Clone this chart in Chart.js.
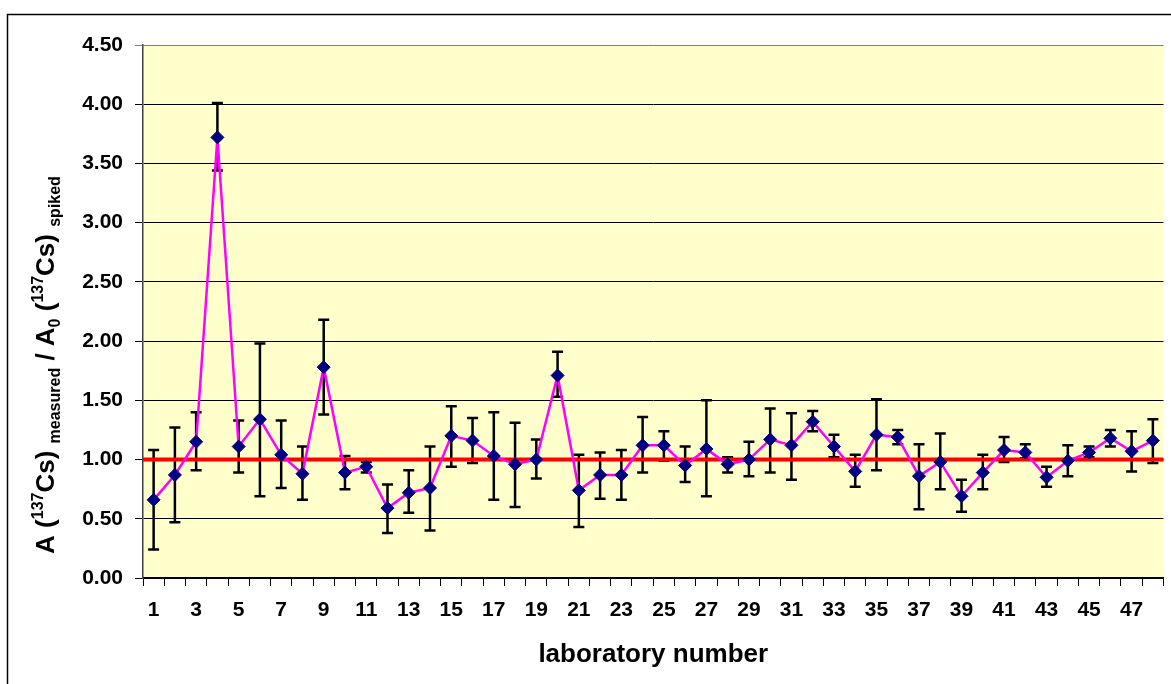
<!DOCTYPE html>
<html>
<head>
<meta charset="utf-8">
<script src="https://cdn.jsdelivr.net/npm/chart.js@4.4.1/dist/chart.umd.min.js"></script>
<style>
  body { margin: 0; background: #fff; }
  #chart1 { display: block; }
</style>
</head>
<body>
<canvas id="chart1" width="1171" height="684"></canvas>
<script>
// laboratory numbers 1..48
var labs = [];
for (var i = 1; i <= 48; ++i) labs.push(String(i));

// A(137Cs) measured / A0(137Cs) spiked
var ratio = [0.66, 0.87, 1.15, 3.72, 1.11, 1.34, 1.04, 0.88, 1.78, 0.89,
             0.94, 0.59, 0.72, 0.76, 1.20, 1.16, 1.03, 0.96, 1.00, 1.71,
             0.74, 0.87, 0.87, 1.12, 1.12, 0.95, 1.09, 0.96, 1.00, 1.17,
             1.12, 1.32, 1.11, 0.90, 1.21, 1.19, 0.86, 0.98, 0.69, 0.89,
             1.08, 1.06, 0.85, 0.99, 1.06, 1.18, 1.07, 1.16];
// error bar ends
var upper = [1.08, 1.27, 1.40, 4.01, 1.33, 1.98, 1.33, 1.11, 2.18, 1.03,
             0.98, 0.79, 0.91, 1.11, 1.45, 1.35, 1.40, 1.31, 1.17, 1.91,
             1.04, 1.06, 1.08, 1.36, 1.24, 1.11, 1.50, 1.02, 1.15, 1.43,
             1.39, 1.41, 1.21, 1.04, 1.51, 1.25, 1.13, 1.22, 0.83, 1.04,
             1.19, 1.13, 0.94, 1.12, 1.11, 1.25, 1.24, 1.34];
var lower = [0.24, 0.47, 0.91, 3.44, 0.89, 0.69, 0.76, 0.66, 1.38, 0.75,
             0.89, 0.38, 0.55, 0.40, 0.94, 0.97, 0.66, 0.60, 0.84, 1.53,
             0.43, 0.67, 0.66, 0.89, 0.99, 0.81, 0.69, 0.89, 0.86, 0.89,
             0.83, 1.24, 1.02, 0.77, 0.91, 1.13, 0.58, 0.75, 0.56, 0.75,
             0.98, 1.01, 0.77, 0.86, 1.02, 1.11, 0.90, 0.97];
var refValue = 1.0;

var xTitle = 'laboratory number';
var yTitleParts = [
  ['A (', 'n'], ['137', 'sup'], ['Cs) ', 'n'], ['measured', 'sub'],
  [' / A', 'n'], ['0', 'sub'], [' (', 'n'], ['137', 'sup'], ['Cs) ', 'n'], ['spiked', 'sub']
];

var FONT = "Arial, 'Liberation Sans', sans-serif";

var decorPlugin = {
  id: 'decor',
  beforeDraw: function(chart) {
    var ctx = chart.ctx, a = chart.chartArea;
    ctx.save();
    ctx.fillStyle = '#ffffff';
    ctx.fillRect(0, 0, chart.width, chart.height);
    ctx.strokeStyle = '#000';
    ctx.lineWidth = 1.5;
    ctx.strokeRect(7.5, 14.5, 1300, 800);
    ctx.fillStyle = '#FFFFCC';
    ctx.fillRect(a.left, a.top, a.right - a.left, a.bottom - a.top);
    ctx.restore();
  },
  beforeDatasetsDraw: function(chart) {
    var ctx = chart.ctx, a = chart.chartArea;
    var xs = chart.scales.x, ys = chart.scales.y;
    ctx.save();
    // error bars
    ctx.strokeStyle = '#000';
    ctx.lineWidth = 2.5;
    for (var i = 0; i < ratio.length; ++i) {
      var x = xs.getPixelForValue(i);
      var yt = ys.getPixelForValue(upper[i]);
      var yb = ys.getPixelForValue(lower[i]);
      ctx.beginPath();
      ctx.moveTo(x, yt); ctx.lineTo(x, yb);
      ctx.moveTo(x - 5.5, yt); ctx.lineTo(x + 5.5, yt);
      ctx.moveTo(x - 5.5, yb); ctx.lineTo(x + 5.5, yb);
      ctx.stroke();
    }
    // reference line at 1.00
    var yr = ys.getPixelForValue(refValue);
    ctx.strokeStyle = '#FF0000';
    ctx.lineWidth = 4;
    ctx.beginPath();
    ctx.moveTo(a.left, yr); ctx.lineTo(a.right, yr);
    ctx.stroke();
    ctx.restore();
  },
  afterDraw: function(chart) {
    var ctx = chart.ctx;
    var big = 'bold 26px ' + FONT, small = 'bold 16px ' + FONT;
    ctx.save();
    ctx.fillStyle = '#000';
    ctx.textBaseline = 'alphabetic';
    var total = 0;
    yTitleParts.forEach(function(p) {
      ctx.font = p[1] === 'n' ? big : small;
      total += ctx.measureText(p[0]).width;
    });
    ctx.translate(54, 365);
    ctx.rotate(-Math.PI / 2);
    var x = -total / 2;
    yTitleParts.forEach(function(p) {
      ctx.font = p[1] === 'n' ? big : small;
      var dy = p[1] === 'sub' ? 6 : (p[1] === 'sup' ? -11 : 0);
      ctx.fillText(p[0], x, dy);
      x += ctx.measureText(p[0]).width;
    });
    ctx.restore();
  }
};

var chart = new Chart('chart1', {
  type: 'line',
  data: {
    labels: labs,
    datasets: [{
      data: ratio,
      borderColor: '#FF00FF',
      borderWidth: 2.5,
      pointStyle: 'rectRot',
      pointRadius: 6.5,
      pointBackgroundColor: '#000080',
      pointBorderColor: '#000080',
      pointBorderWidth: 1,
      tension: 0
    }]
  },
  options: {
    responsive: false,
    animation: false,
    layout: { padding: { top: 45, right: 2, left: 0, bottom: 0 } },
    plugins: { legend: { display: false }, tooltip: { enabled: false } },
    scales: {
      x: {
        type: 'category',
        offset: true,
        afterFit: function(s) { s.height = 106; s.paddingRight = 0; s.paddingLeft = 0; },
        grid: { offset: true, drawOnChartArea: false, drawTicks: true, tickLength: 8, color: '#000' },
        border: { color: '#000', width: 1.5 },
        ticks: {
          autoSkip: false, maxRotation: 0, padding: 12, color: '#000',
          font: { family: FONT, size: 21, weight: 'bold' },
          callback: function(v, idx) { return idx % 2 === 0 ? labs[idx] : ''; }
        },
        title: {
          display: true, text: xTitle, color: '#000',
          font: { family: FONT, size: 26, weight: 'bold' },
          padding: { top: 0, bottom: 14 }
        }
      },
      y: {
        min: 0, max: 4.5,
        afterFit: function(s) { s.width = 143; },
        grid: {
          color: function(c) { return c.tick && c.tick.value === 4.5 ? '#808080' : '#000'; },
          lineWidth: 1, tickLength: 8
        },
        border: { color: '#404040', width: 1.5 },
        ticks: {
          stepSize: 0.5, padding: 12, color: '#000',
          font: { family: FONT, size: 21, weight: 'bold' },
          callback: function(v) { return v.toFixed(2); }
        }
      }
    }
  },
  plugins: [decorPlugin]
});
</script>
</body>
</html>
